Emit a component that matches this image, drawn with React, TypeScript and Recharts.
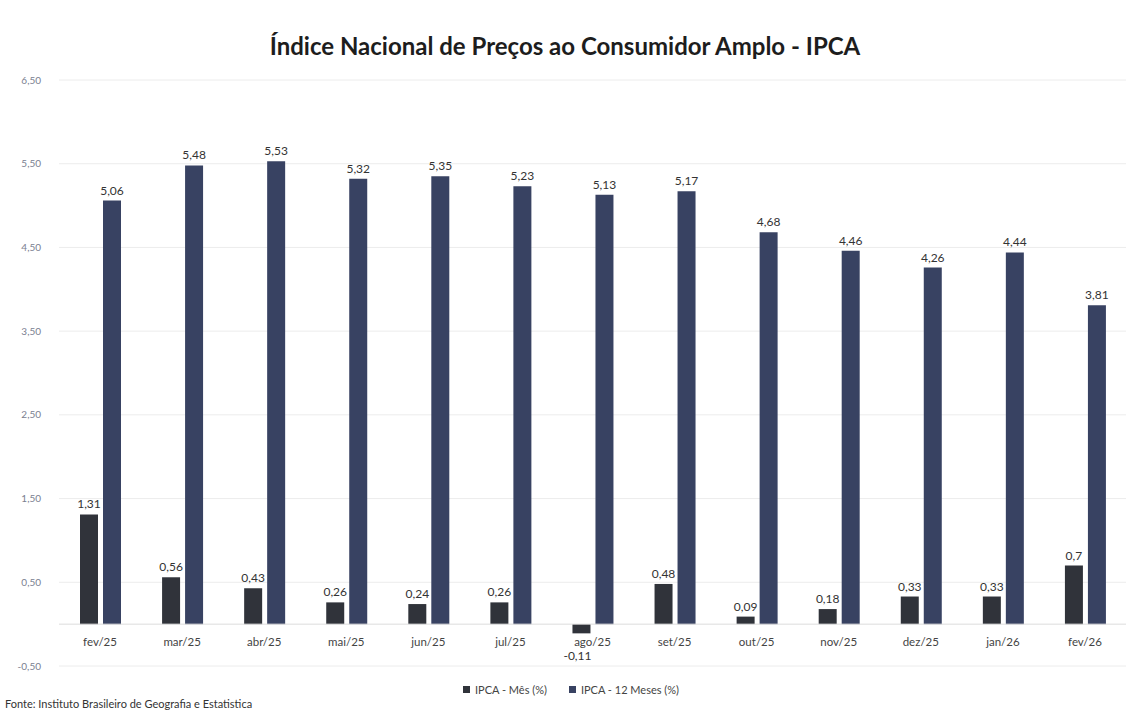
import {
  Bar,
  BarChart,
  CartesianGrid,
  LabelList,
  Legend,
  ReferenceLine,
  XAxis,
  YAxis,
} from "recharts";

const months = [
  "fev/25", "mar/25", "abr/25", "mai/25", "jun/25", "jul/25", "ago/25",
  "set/25", "out/25", "nov/25", "dez/25", "jan/26", "fev/26",
];
const ipcaMes = [1.31, 0.56, 0.43, 0.26, 0.24, 0.26, -0.11, 0.48, 0.09, 0.18, 0.33, 0.33, 0.7];
const ipca12m = [5.06, 5.48, 5.53, 5.32, 5.35, 5.23, 5.13, 5.17, 4.68, 4.46, 4.26, 4.44, 3.81];
const yTicks = [-0.5, 0.5, 1.5, 2.5, 3.5, 4.5, 5.5, 6.5];

const data = months.map((m, i) => ({ m, mes: ipcaMes[i], doze: ipca12m[i] }));

const GRAY = "#30333a";
const NAVY = "#384262";
const FONT = "Lato, 'Open Sans', sans-serif";

const fmt = (v: number) => String(v).replace(".", ",");

function ValueLabel(props: any) {
  const { x, y, width, height, value } = props;
  const top = Math.min(y, y + height);
  const bottom = Math.max(y, y + height);
  const neg = value < 0;
  return (
    <text
      x={x + width / 2 + (neg ? -4 : 0)}
      y={neg ? bottom + 27 : top - 6}
      textAnchor="middle"
      fontSize={12}
      fontFamily={FONT}
      fill="#333"
    >
      {fmt(value)}
    </text>
  );
}

function MonthTick(props: any) {
  const { x, y, payload } = props;
  return (
    <text x={x} y={y - 28} textAnchor="middle" fontSize={11.5} fontFamily={FONT} fill="#444">
      {payload.value}
    </text>
  );
}

function LegendBox() {
  const items = [
    { label: "IPCA - Mês (%)", color: GRAY },
    { label: "IPCA - 12 Meses (%)", color: NAVY },
  ];
  return (
    <div style={{ display: "flex", justifyContent: "center", gap: 22, fontFamily: FONT, fontSize: 11, color: "#444" }}>
      {items.map((it) => (
        <span key={it.label} style={{ display: "inline-flex", alignItems: "center", gap: 5 }}>
          <span style={{ width: 7, height: 7, background: it.color, display: "inline-block" }} />
          {it.label}
        </span>
      ))}
    </div>
  );
}

export default function App() {
  return (
    <div style={{ position: "absolute", left: 0, top: 0, width: 1142, height: 712, background: "#fff" }}>
      <div
        style={{
          position: "absolute",
          top: 31,
          left: 0,
          width: 1130,
          textAlign: "center",
          fontFamily: FONT,
          fontWeight: 700,
          fontSize: 24,
          color: "#1d1d1d",
        }}
      >
        Índice Nacional de Preços ao Consumidor Amplo - IPCA
      </div>
      <BarChart
        width={1142}
        height={712}
        data={data}
        margin={{ top: 80, right: 16, bottom: 26, left: 8 }}
        barSize={18}
        barGap={5}
      >
        <CartesianGrid vertical={false} stroke="#ececec" />
        <XAxis
          dataKey="m"
          height={20}
          axisLine={false}
          tickLine={false}
          tick={<MonthTick />}
          interval={0}
        />
        <YAxis
          domain={[-0.5, 6.5]}
          ticks={yTicks}
          width={51}
          axisLine={false}
          tickLine={false}
          tickMargin={12}
          tickFormatter={(v: number) => v.toFixed(2).replace(".", ",")}
          tick={{ fontSize: 10, fill: "#7a8090", fontFamily: FONT }}
        />
        <ReferenceLine y={0} stroke="#dcdcdc" />
        <Legend
          verticalAlign="middle"
          wrapperStyle={{ top: 683, left: 0, width: 1142 }}
          content={<LegendBox />}
        />
        <Bar dataKey="mes" name="IPCA - Mês (%)" fill={GRAY} isAnimationActive={false}>
          <LabelList dataKey="mes" content={<ValueLabel />} />
        </Bar>
        <Bar dataKey="doze" name="IPCA - 12 Meses (%)" fill={NAVY} isAnimationActive={false}>
          <LabelList dataKey="doze" content={<ValueLabel />} />
        </Bar>
      </BarChart>
      <div
        style={{
          position: "absolute",
          left: 5,
          top: 697,
          fontFamily: FONT,
          fontSize: 11,
          color: "#333",
        }}
      >
        Fonte: Instituto Brasileiro de Geografia e Estatistica
      </div>
    </div>
  );
}
